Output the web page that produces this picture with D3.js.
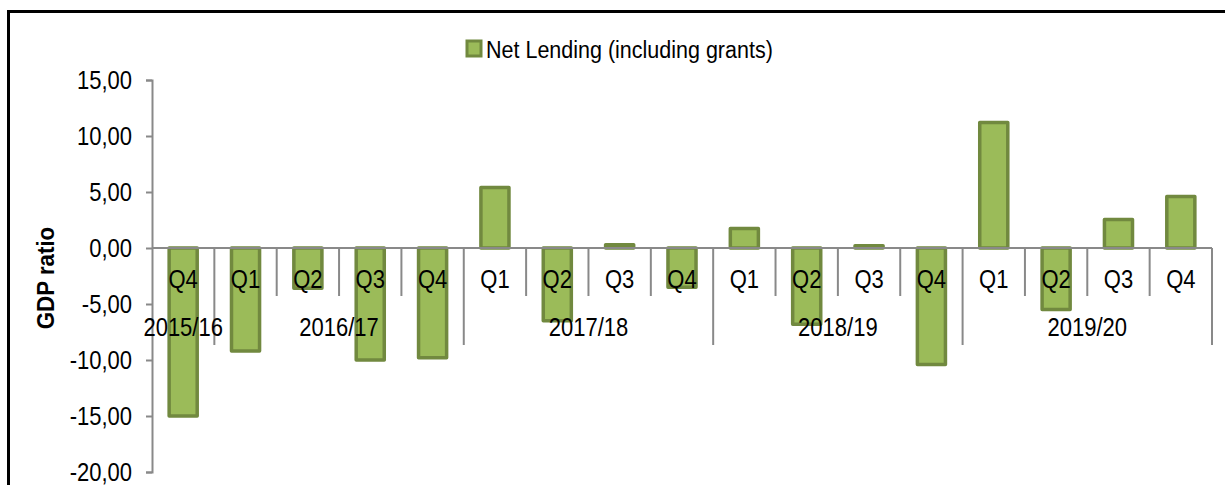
<!DOCTYPE html>
<html>
<head>
<meta charset="utf-8">
<script src="https://cdn.jsdelivr.net/npm/d3@7"></script>
<style>
  body { margin: 0; background: #fff; }
  text { font-family: "Liberation Sans", Arial, sans-serif; fill: #000; }
</style>
</head>
<body>
<svg width="1225" height="485"></svg>
<script>
let years = ['2015/16', '2016/17', '2017/18', '2018/19', '2019/20'];
let quarters = ['Q4', 'Q1', 'Q2', 'Q3', 'Q4', 'Q1', 'Q2', 'Q3', 'Q4', 'Q1', 'Q2', 'Q3', 'Q4', 'Q1', 'Q2', 'Q3', 'Q4'];
let quarterYear = [0, 1, 1, 1, 1, 2, 2, 2, 2, 3, 3, 3, 3, 4, 4, 4, 4];
let netLending = [-15.0, -9.2, -3.6, -10.0, -9.8, 5.4, -6.5, 0.3, -3.5, 1.75, -6.8, 0.2, -10.4, 11.2, -5.5, 2.55, 4.6];
let yTicks = [15, 10, 5, 0, -5, -10, -15, -20];

let svgWidth = 1225, svgHeight = 485;
let plotLeft = 152, plotRight = 1212, plotTop = 80, plotBottom = 472;
let barFill = '#9BBB59', barStroke = '#71893F', axisColor = '#898989';
let stretch = 'scale(1,1.13)'; // the source text is a bit taller than plain Arial

let svg = d3.select('svg');

// outer frame (only top and left visible)
svg.append('rect')
   .attr('x', 8.5).attr('y', 11.5)
   .attr('width', 1240).attr('height', 500)
   .attr('fill', 'none').attr('stroke', '#000').attr('stroke-width', 3);

let xScale = d3.scaleBand()
               .domain(d3.range(quarters.length))
               .range([plotLeft, plotRight])
               .paddingInner(0.55)
               .paddingOuter(0.275);
let step = xScale.step();

let yScale = d3.scaleLinear()
               .domain([-20, 15])
               .range([plotBottom, plotTop]);

// bars
svg.selectAll('rect.bar')
   .data(netLending)
   .enter()
   .append('rect')
   .attr('class', 'bar')
   .attr('x', (d, i) => xScale(i))
   .attr('width', xScale.bandwidth())
   .attr('y', (d) => yScale(Math.max(0, d)))
   .attr('height', (d) => Math.abs(yScale(d) - yScale(0)))
   .attr('fill', barFill)
   .attr('stroke', barStroke)
   .attr('stroke-width', 3.5)
   .attr('stroke-linejoin', 'round');

// y axis
let yAxis = d3.axisLeft(yScale)
              .tickValues(yTicks)
              .tickSize(6)
              .tickFormat((d) => d3.format('.2f')(d).replace('.', ',').replace('\u2212', '-'));
let gy = svg.append('g')
            .attr('transform', 'translate(' + plotLeft + ',0)')
            .call(yAxis);
gy.select('.domain').attr('stroke', axisColor).attr('stroke-width', 2);
gy.selectAll('.tick line').attr('stroke', axisColor).attr('stroke-width', 2);
gy.selectAll('.tick text')
  .attr('x', null)
  .attr('dy', null)
  .attr('transform', 'translate(-20,0) ' + stretch)
  .attr('dominant-baseline', 'central')
  .style('font-size', '22px')
  .style('font-family', '"Liberation Sans", Arial, sans-serif')
  .attr('fill', '#000');

// x axis line at zero
let y0 = yScale(0);
svg.append('line')
   .attr('x1', plotLeft).attr('x2', plotRight)
   .attr('y1', y0).attr('y2', y0)
   .attr('stroke', axisColor).attr('stroke-width', 2);

// separators between quarters, longer ones between years
let bounds = d3.range(1, quarters.length + 1);
svg.selectAll('line.sep')
   .data(bounds)
   .enter()
   .append('line')
   .attr('class', 'sep')
   .attr('x1', (i) => plotLeft + step * i)
   .attr('x2', (i) => plotLeft + step * i)
   .attr('y1', y0)
   .attr('y2', (i) => (i === quarters.length || quarterYear[i] !== quarterYear[i - 1]) ? 345 : 296)
   .attr('stroke', axisColor)
   .attr('stroke-width', 2);

// quarter labels
svg.selectAll('text.q')
   .data(quarters)
   .enter()
   .append('text')
   .attr('class', 'q')
   .attr('transform', (d, i) => 'translate(' + (xScale(i) + xScale.bandwidth() / 2) + ',280) ' + stretch)
   .attr('dominant-baseline', 'central')
   .attr('text-anchor', 'middle')
   .style('font-size', '22px')
   .text((d) => d);

// year labels, centred on their group of quarters
svg.selectAll('text.yr')
   .data(years)
   .enter()
   .append('text')
   .attr('class', 'yr')
   .attr('transform', (d, k) => {
       let idx = quarterYear.map((v, i) => v === k ? i : -1).filter((i) => i >= 0);
       let cx = (xScale(idx[0]) + xScale(idx[idx.length - 1]) + xScale.bandwidth()) / 2;
       return 'translate(' + cx + ',328) ' + stretch;
   })
   .attr('dominant-baseline', 'central')
   .attr('text-anchor', 'middle')
   .style('font-size', '22px')
   .text((d) => d);

// y axis title
svg.append('text')
   .attr('transform', 'translate(46,278) rotate(-90) scale(0.93,1)')
   .attr('dominant-baseline', 'central')
   .attr('text-anchor', 'middle')
   .style('font-size', '24px')
   .style('font-weight', 'bold')
   .text('GDP ratio');

// legend
svg.append('rect')
   .attr('x', 467).attr('y', 41)
   .attr('width', 14).attr('height', 15)
   .attr('fill', barFill)
   .attr('stroke', barStroke)
   .attr('stroke-width', 3);
svg.append('text')
   .attr('transform', 'translate(486,50) ' + stretch)
   .attr('dominant-baseline', 'central')
   .style('font-size', '21.5px')
   .text('Net Lending (including grants)');
</script>
</body>
</html>
